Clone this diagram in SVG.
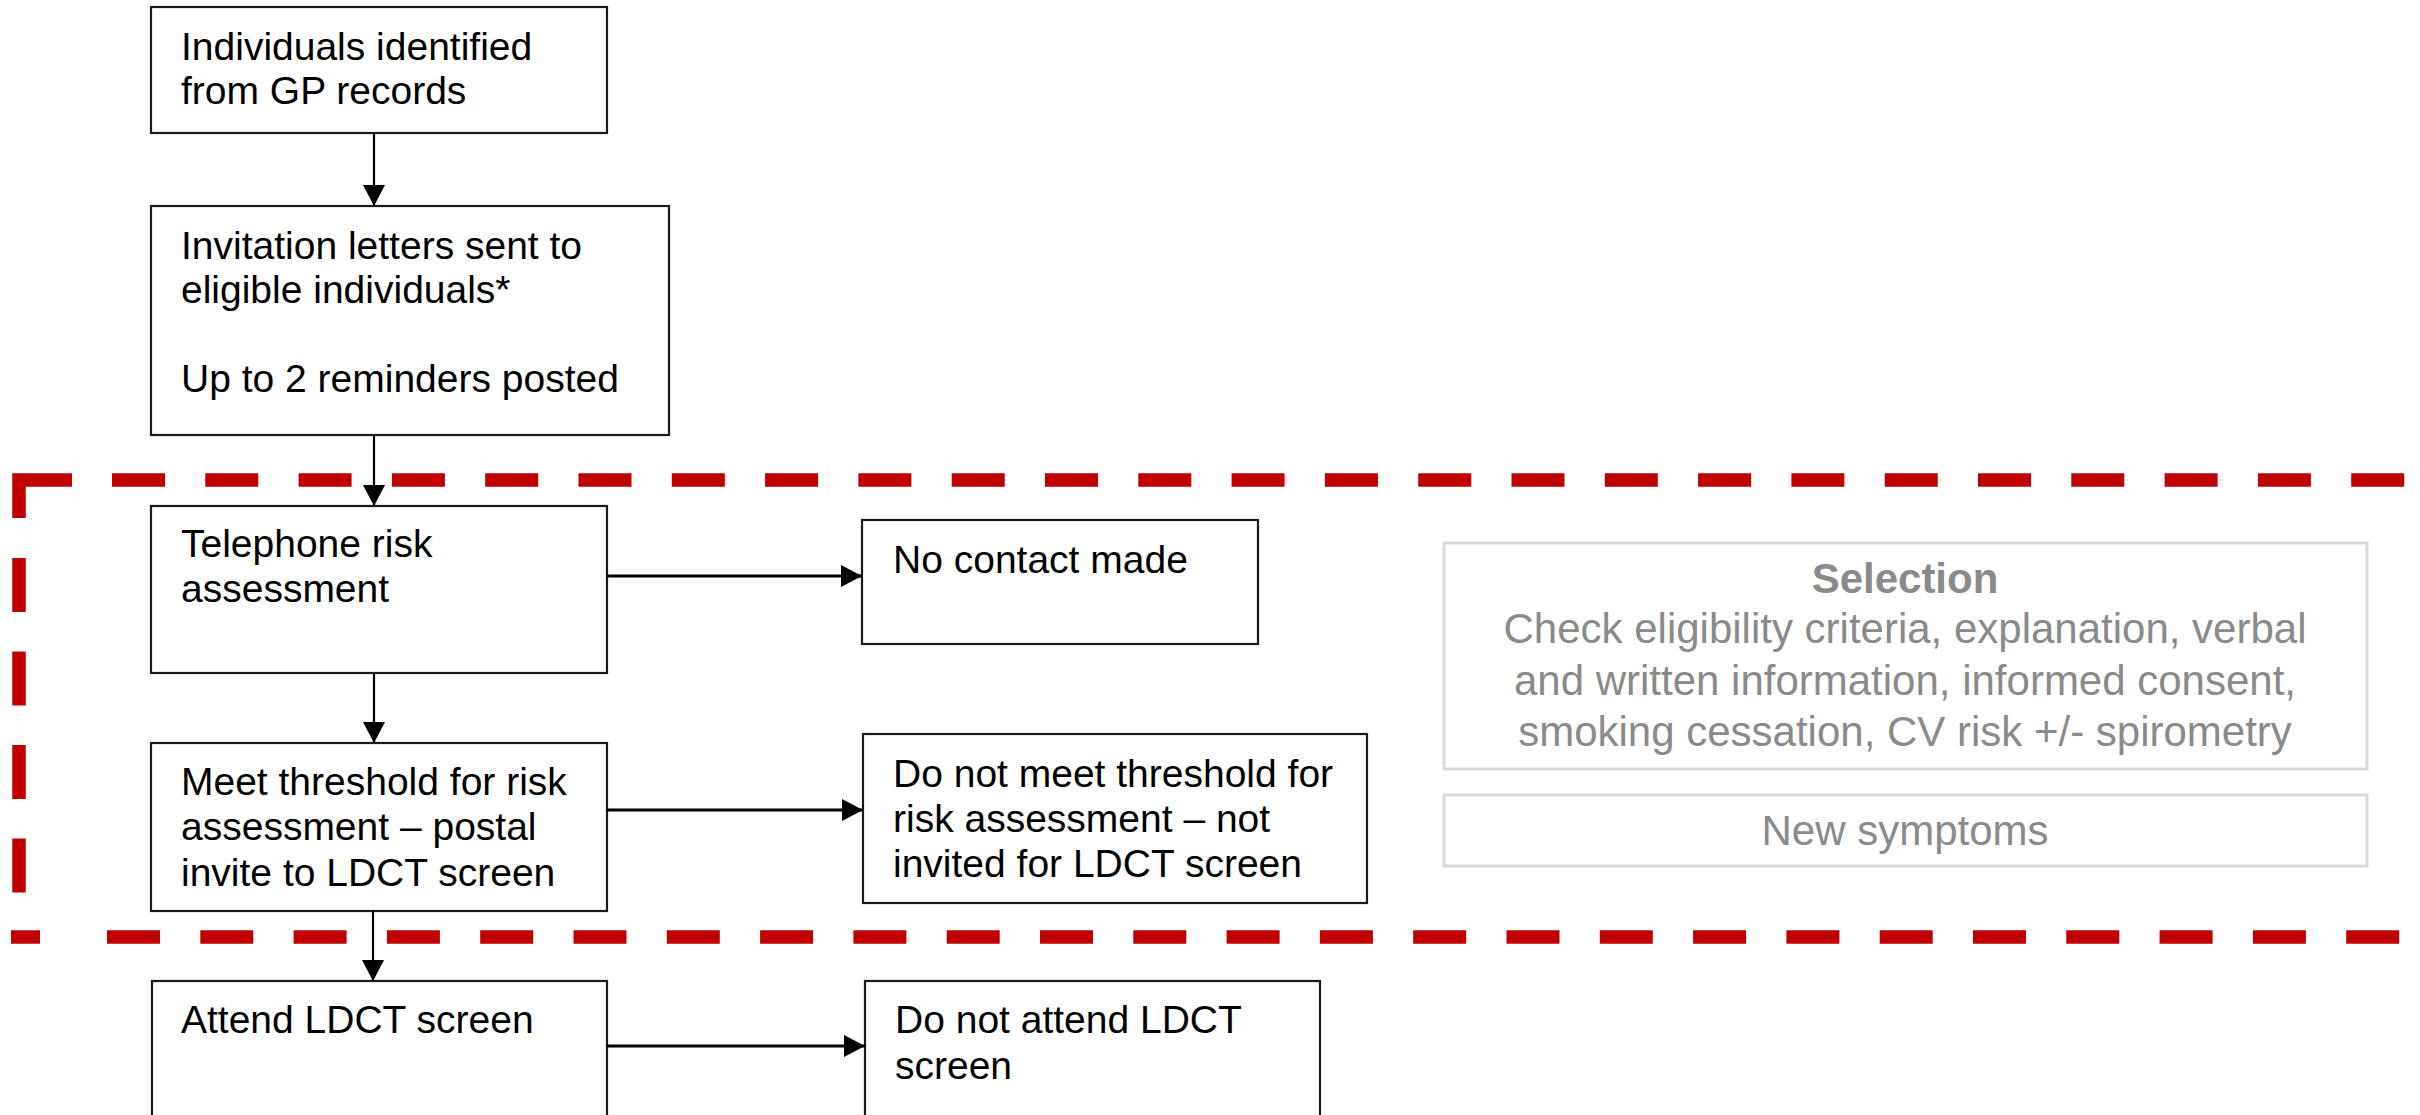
<svg xmlns="http://www.w3.org/2000/svg" width="2420" height="1115" viewBox="0 0 2420 1115">
<defs>
<style>
.box{fill:#fff;stroke:#1a1a1a;stroke-width:2.2}
.gbox{fill:#fff;stroke:#d9d9d9;stroke-width:3}
.t{font-family:"Liberation Sans",Arial,sans-serif;font-size:39px;fill:#000}
.g{font-family:"Liberation Sans",Arial,sans-serif;font-size:42px;fill:#8a8a8a;text-anchor:middle}
.gb{font-weight:bold}
.ln{stroke:#000;stroke-width:2.2;fill:none}
.lh{stroke:#000;stroke-width:3;fill:none}
.red{stroke:#c00000;stroke-width:13.5;fill:none}
</style>
<marker id="ah" viewBox="0 0 21 22" refX="21" refY="11" markerWidth="21" markerHeight="22" markerUnits="userSpaceOnUse" orient="auto">
<path d="M0,0 L21,11 L0,22 z" fill="#000"/>
</marker>
</defs>
<rect width="2420" height="1115" fill="#fff"/>

<g id="region">
<path class="red" d="M19,518 V480 H72"/>
<path class="red" d="M112,480 H2420" stroke-dasharray="53 40.3"/>
<path class="red" d="M19,558 V893" stroke-dasharray="54 39.5"/>
<path class="red" d="M11,937 H40"/>
<path class="red" d="M107,937 H2420" stroke-dasharray="53 40.3"/>
</g>

<g id="n1">
<rect class="box" x="151" y="7" width="456" height="126"/>
<text class="t" x="181" y="60">Individuals identified</text>
<text class="t" x="181" y="104">from GP records</text>
</g>
<g id="n2">
<rect class="box" x="151" y="206" width="518" height="229"/>
<text class="t" x="181" y="259">Invitation letters sent to</text>
<text class="t" x="181" y="303">eligible individuals*</text>
<text class="t" x="181" y="392">Up to 2 reminders posted</text>
</g>
<g id="n3">
<rect class="box" x="151" y="506" width="456" height="167"/>
<text class="t" x="181" y="557">Telephone risk</text>
<text class="t" x="181" y="602">assessment</text>
</g>
<g id="n4">
<rect class="box" x="862" y="520" width="396" height="124"/>
<text class="t" x="893" y="573">No contact made</text>
</g>
<g id="n5">
<rect class="box" x="151" y="743" width="456" height="168"/>
<text class="t" x="181" y="795">Meet threshold for risk</text>
<text class="t" x="181" y="840">assessment – postal</text>
<text class="t" x="181" y="886">invite to LDCT screen</text>
</g>
<g id="n6">
<rect class="box" x="863" y="734" width="504" height="169"/>
<text class="t" x="893" y="787">Do not meet threshold for</text>
<text class="t" x="893" y="832">risk assessment – not</text>
<text class="t" x="893" y="877">invited for LDCT screen</text>
</g>
<g id="n7">
<rect class="box" x="152" y="981" width="455" height="160"/>
<text class="t" x="181" y="1033">Attend LDCT screen</text>
</g>
<g id="n8">
<rect class="box" x="865" y="981" width="455" height="160"/>
<text class="t" x="895" y="1033">Do not attend LDCT</text>
<text class="t" x="895" y="1079">screen</text>
</g>
<g id="n9">
<rect class="gbox" x="1444" y="543" width="923" height="226"/>
<text class="g gb" x="1905" y="593">Selection</text>
<text class="g" x="1905" y="643">Check eligibility criteria, explanation, verbal</text>
<text class="g" x="1905" y="695">and written information, informed consent,</text>
<text class="g" x="1905" y="746">smoking cessation, CV risk +/- spirometry</text>
</g>
<g id="n10">
<rect class="gbox" x="1444" y="795" width="923" height="71"/>
<text class="g" x="1905" y="845">New symptoms</text>
</g>

<g id="connectors">
<path class="ln" d="M374,133 V206" marker-end="url(#ah)"/>
<path class="ln" d="M374,435 V506" marker-end="url(#ah)"/>
<path class="ln" d="M374,673 V743" marker-end="url(#ah)"/>
<path class="ln" d="M373,911 V981" marker-end="url(#ah)"/>
<path class="lh" d="M607,576 H862" marker-end="url(#ah)"/>
<path class="lh" d="M607,810 H863" marker-end="url(#ah)"/>
<path class="lh" d="M607,1046 H865" marker-end="url(#ah)"/>
</g>
</svg>
